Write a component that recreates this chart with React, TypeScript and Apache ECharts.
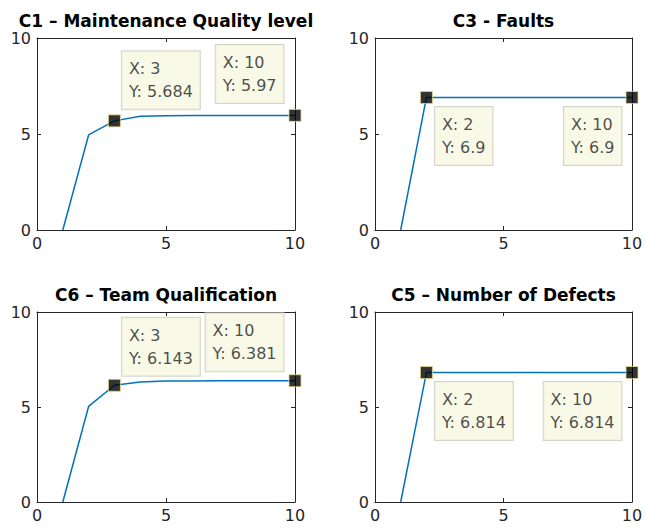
import React, { useEffect, useRef } from "react";
import * as echarts from "echarts";

// ---- data ----
const xValues = [1, 2, 3, 4, 5, 6, 7, 8, 9, 10];
const c1Values = [0, 4.95, 5.684, 5.92, 5.955, 5.962, 5.966, 5.968, 5.969, 5.97];
const c3Values = [0, 6.9, 6.9, 6.9, 6.9, 6.9, 6.9, 6.9, 6.9, 6.9];
const c6Values = [0, 5.03, 6.143, 6.32, 6.365, 6.372, 6.376, 6.379, 6.38, 6.381];
const c5Values = [0, 6.814, 6.814, 6.814, 6.814, 6.814, 6.814, 6.814, 6.814, 6.814];
const panelValues = [c1Values, c3Values, c6Values, c5Values];
const titles = [
  "C1 – Maintenance Quality level",
  "C3 - Faults",
  "C6 – Team Qualification",
  "C5 – Number of Defects",
];
const tipXs = [[3, 10], [2, 10], [3, 10], [2, 10]];
const tipYs = [[5.684, 5.97], [6.9, 6.9], [6.143, 6.381], [6.814, 6.814]];
const axisTicks = [0, 5, 10];

// ---- layout (positions / styles) ----
const grids = [
  { left: 37, top: 38, width: 258, height: 192 },
  { left: 375, top: 38, width: 257, height: 192 },
  { left: 37, top: 312, width: 258, height: 190 },
  { left: 375, top: 312, width: 257, height: 190 },
];
const titleY = [21, 21, 295, 295];
// offset of datatip box corner from marker centre, and anchoring
const tipPlacement = [
  [{ dx: 8, dy: -11, side: "right", v: "bottom" }, { dx: -10, dy: -12, side: "left", v: "bottom" }],
  [{ dx: 9, dy: 10, side: "right", v: "top" }, { dx: -9, dy: 10, side: "left", v: "top" }],
  [{ dx: 8, dy: -9, side: "right", v: "bottom" }, { dx: -10, dy: -9, side: "left", v: "bottom" }],
  [{ dx: 9, dy: 10, side: "right", v: "top" }, { dx: -9, dy: 10, side: "left", v: "top" }],
];

const FONT = "'DejaVu Sans', 'Liberation Sans', Arial, sans-serif";
const AX = "#262626";
const SYM = 12;
const TIP_FONT = 16;
const PAD_X = 7;

function measure(text: string): number {
  const c = document.createElement("canvas");
  const ctx = c.getContext("2d");
  if (!ctx) return text.length * 9;
  ctx.font = `${TIP_FONT}px ${FONT}`;
  return Math.max(...text.split("\n").map((l) => ctx.measureText(l).width));
}

export default function App() {
  const ref = useRef<HTMLDivElement>(null);
  useEffect(() => {
    if (!ref.current) return;
    const chart = echarts.init(ref.current, null, { renderer: "svg" });
    const xAxis: any[] = [];
    const yAxis: any[] = [];
    const series: any[] = [];
    const graphic: any[] = [];
    const axisMin = axisTicks[0];
    const axisMax = axisTicks[axisTicks.length - 1];
    const interval = axisTicks[1] - axisTicks[0];

    grids.forEach((g, i) => {
      const common = {
        gridIndex: i,
        type: "value",
        min: axisMin,
        max: axisMax,
        interval,
        splitLine: { show: false },
        axisLine: { show: true, onZero: false, lineStyle: { color: AX, width: 1 } },
        axisTick: { show: true, inside: true, length: 4, lineStyle: { color: AX } },
      };
      xAxis.push({
        ...common,
        position: "bottom",
        axisLabel: { show: true, color: AX, fontSize: 16, fontFamily: FONT, margin: 5 },
      });
      xAxis.push({ ...common, position: "top", axisLabel: { show: false } });
      yAxis.push({
        ...common,
        position: "left",
        axisLabel: { show: true, color: AX, fontSize: 16, fontFamily: FONT, margin: 6 },
      });
      yAxis.push({ ...common, position: "right", axisLabel: { show: false } });

      series.push({
        type: "line",
        xAxisIndex: i * 2,
        yAxisIndex: i * 2,
        data: xValues.map((x, k) => [x, panelValues[i][k]]),
        showSymbol: false,
        symbol: "none",
        lineStyle: { color: "#0072BD", width: 1.5 },
        z: 2,
      });

      series.push({
        type: "scatter",
        xAxisIndex: i * 2,
        yAxisIndex: i * 2,
        clip: false,
        symbol: "rect",
        symbolSize: SYM,
        itemStyle: { color: "#000", borderColor: "#e0d890", borderWidth: 1 },
        z: 5,
        data: tipXs[i].map((x, k) => {
          const p = tipPlacement[i][k];
          const text = `X: ${x}\nY: ${tipYs[i][k]}`;
          const boxW = measure(text) + PAD_X * 2 + 1;
          const px = p.side === "right" ? SYM / 2 + p.dx : SYM / 2 + p.dx - boxW;
          return {
            value: [x, tipYs[i][k]],
            label: {
              show: true,
              position: [px, SYM / 2 + p.dy],
              align: "left",
              verticalAlign: p.v,
              formatter: text,
              backgroundColor: "#f7f7e2",
              borderColor: "#cbcbbb",
              borderWidth: 1,
              padding: [6, PAD_X],
              lineHeight: 23,
              fontSize: TIP_FONT,
              fontFamily: FONT,
              color: "#1e1e1e",
            },
          };
        }),
      });

      graphic.push({
        type: "text",
        x: g.left + g.width / 2,
        y: titleY[i],
        style: {
          text: titles[i],
          align: "center",
          verticalAlign: "middle",
          fontSize: 17,
          fontWeight: "bold",
          fontFamily: FONT,
          fill: "#000",
        },
      });
    });

    chart.setOption({
      animation: false,
      backgroundColor: "#fff",
      grid: grids.map((g) => ({ ...g, containLabel: false })),
      xAxis,
      yAxis,
      series,
      graphic,
    });
    return () => chart.dispose();
  }, []);
  return (
    <div
      ref={ref}
      style={{ position: "fixed", left: 0, top: 0, width: 646, height: 531 }}
    />
  );
}
